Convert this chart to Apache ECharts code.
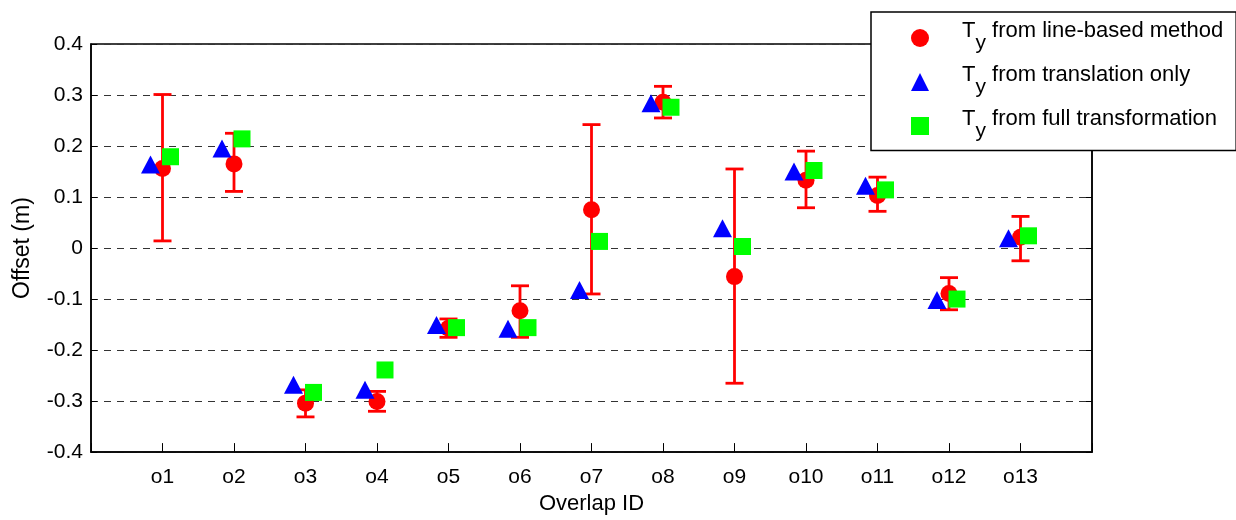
<!DOCTYPE html>
<html>
<head>
<meta charset="utf-8">
<script src="https://cdn.jsdelivr.net/npm/echarts@6/dist/echarts.min.js"></script>
<style>html,body{margin:0;padding:0;background:#fff}#c{width:1236px;height:520px}</style>
</head>
<body>
<div id="c"></div>
<script>
var categories = ['o1','o2','o3','o4','o5','o6','o7','o8','o9','o10','o11','o12','o13'];
var lineBased = [0.156, 0.165, -0.304, -0.301, -0.157, -0.123, 0.075, 0.286, -0.056, 0.133, 0.103, -0.089, 0.021];
var errLow = [0.014, 0.111, -0.331, -0.320, -0.175, -0.175, -0.090, 0.255, -0.265, 0.079, 0.072, -0.121, -0.025];
var errHigh = [0.301, 0.225, -0.278, -0.281, -0.139, -0.074, 0.242, 0.317, 0.155, 0.190, 0.139, -0.058, 0.062];
var translationOnly = [0.164, 0.195, -0.268, -0.278, -0.151, -0.158, -0.082, 0.284, 0.039, 0.150, 0.122, -0.102, 0.019];
var fullTransformation = [0.179, 0.214, -0.283, -0.239, -0.156, -0.156, 0.013, 0.276, 0.003, 0.152, 0.114, -0.100, 0.024];
var yTicks = [-0.4, -0.3, -0.2, -0.1, 0, 0.1, 0.2, 0.3, 0.4];
var legendLabels = {lb: 'from line-based method', tr: 'from translation only', ft: 'from full transformation'};

var FONT = "'Liberation Sans', Arial, sans-serif";
function pts(arr){ return arr.map(function(v,i){ return [i+1, v]; }); }
var errData = categories.map(function(c,i){ return [i+1, errLow[i], errHigh[i]]; });

var chart = echarts.init(document.getElementById('c'));
chart.setOption({
  animation: false,
  backgroundColor: '#fff',
  textStyle: {fontFamily: FONT},
  grid: {left: 91, right: 144, top: 44, bottom: 63, show: true, borderColor: '#000', borderWidth: 1.5, backgroundColor: 'transparent'},
  xAxis: {
    type: 'value', min: 0, max: categories.length + 1, interval: 1,
    name: 'Overlap ID', nameLocation: 'middle', nameGap: 39,
    nameTextStyle: {fontFamily: FONT, fontSize: 22, color: '#000'},
    axisLine: {show: true, onZero: false, lineStyle: {color: '#000', width: 1.5}},
    axisTick: {show: true, inside: true, length: 9, lineStyle: {color: '#000'}},
    axisLabel: {fontFamily: FONT, fontSize: 21, color: '#000', margin: 15,
      formatter: function(v){ return (v >= 1 && v <= categories.length) ? categories[v-1] : ''; }},
    splitLine: {show: false}
  },
  yAxis: [{
    type: 'value', min: yTicks[0], max: yTicks[yTicks.length-1], interval: 0.1,
    name: 'Offset (m)', nameLocation: 'middle', nameGap: 57, nameRotate: 90,
    nameTextStyle: {fontFamily: FONT, fontSize: 23, color: '#000'},
    axisLine: {show: true, onZero: false, lineStyle: {color: '#000', width: 1.5}},
    axisTick: {show: true, inside: true, length: 6, lineStyle: {color: '#000'}},
    axisLabel: {fontFamily: FONT, fontSize: 21, color: '#000', margin: 8,
      formatter: function(v){ return String(Math.round(v*10)/10); }},
    splitLine: {show: true, lineStyle: {color: '#333', type: [7, 6], width: 1}}
  }, {
    type: 'value', position: 'right', min: yTicks[0], max: yTicks[yTicks.length-1], interval: 0.1,
    axisLine: {show: true, onZero: false, lineStyle: {color: '#000', width: 1.5}},
    axisTick: {show: true, inside: true, length: 6, lineStyle: {color: '#000'}},
    axisLabel: {show: false}, splitLine: {show: false}
  }],
  legend: {
    orient: 'vertical', left: 871, top: 12,
    padding: [8, 13, 9, 40],
    itemWidth: 18, itemHeight: 18, itemGap: 10.5,
    backgroundColor: '#fff', borderColor: '#000', borderWidth: 1.5, borderRadius: 0,
    data: ['lb', 'tr', 'ft'],
    formatter: function(name){
      return '{n|T}{s|y}{n| ' + legendLabels[name] + '}';
    },
    textStyle: {
      fontFamily: FONT, fontSize: 22, color: '#000', padding: [0, 0, 0, 28],
      rich: {
        n: {fontFamily: FONT, fontSize: 22, color: '#000', padding: [0, 0, 14, 0]},
        s: {fontFamily: FONT, fontSize: 21, color: '#000', padding: [10, 0, 0, 0]}
      }
    }
  },
  series: [
    {
      name: 'err', type: 'custom', z: 2,
      data: errData,
      renderItem: function(params, api){
        var x = api.value(0);
        var lo = api.coord([x, api.value(1)]);
        var hi = api.coord([x, api.value(2)]);
        var hw = 9;
        var st = {stroke: '#ff0000', lineWidth: 2.8};
        return {type: 'group', children: [
          {type: 'line', shape: {x1: lo[0], y1: lo[1], x2: hi[0], y2: hi[1]}, style: st},
          {type: 'line', shape: {x1: lo[0]-hw, y1: lo[1], x2: lo[0]+hw, y2: lo[1]}, style: st},
          {type: 'line', shape: {x1: hi[0]-hw, y1: hi[1], x2: hi[0]+hw, y2: hi[1]}, style: st}
        ]};
      },
      encode: {x: 0, y: [1, 2]}
    },
    {name: 'lb', type: 'scatter', z: 3, symbol: 'circle', symbolSize: 17,
      itemStyle: {color: '#ff0000', opacity: 1}, data: pts(lineBased)},
    {name: 'tr', type: 'scatter', z: 4, symbol: 'triangle', symbolSize: [19, 18], symbolOffset: [-12, 0],
      itemStyle: {color: '#0000ff', opacity: 1}, data: pts(translationOnly)},
    {name: 'ft', type: 'scatter', z: 5, symbol: 'rect', symbolSize: 17, symbolOffset: [8, 0],
      itemStyle: {color: '#00ff00', opacity: 1}, data: pts(fullTransformation)}
  ]
});
</script>
</body>
</html>
